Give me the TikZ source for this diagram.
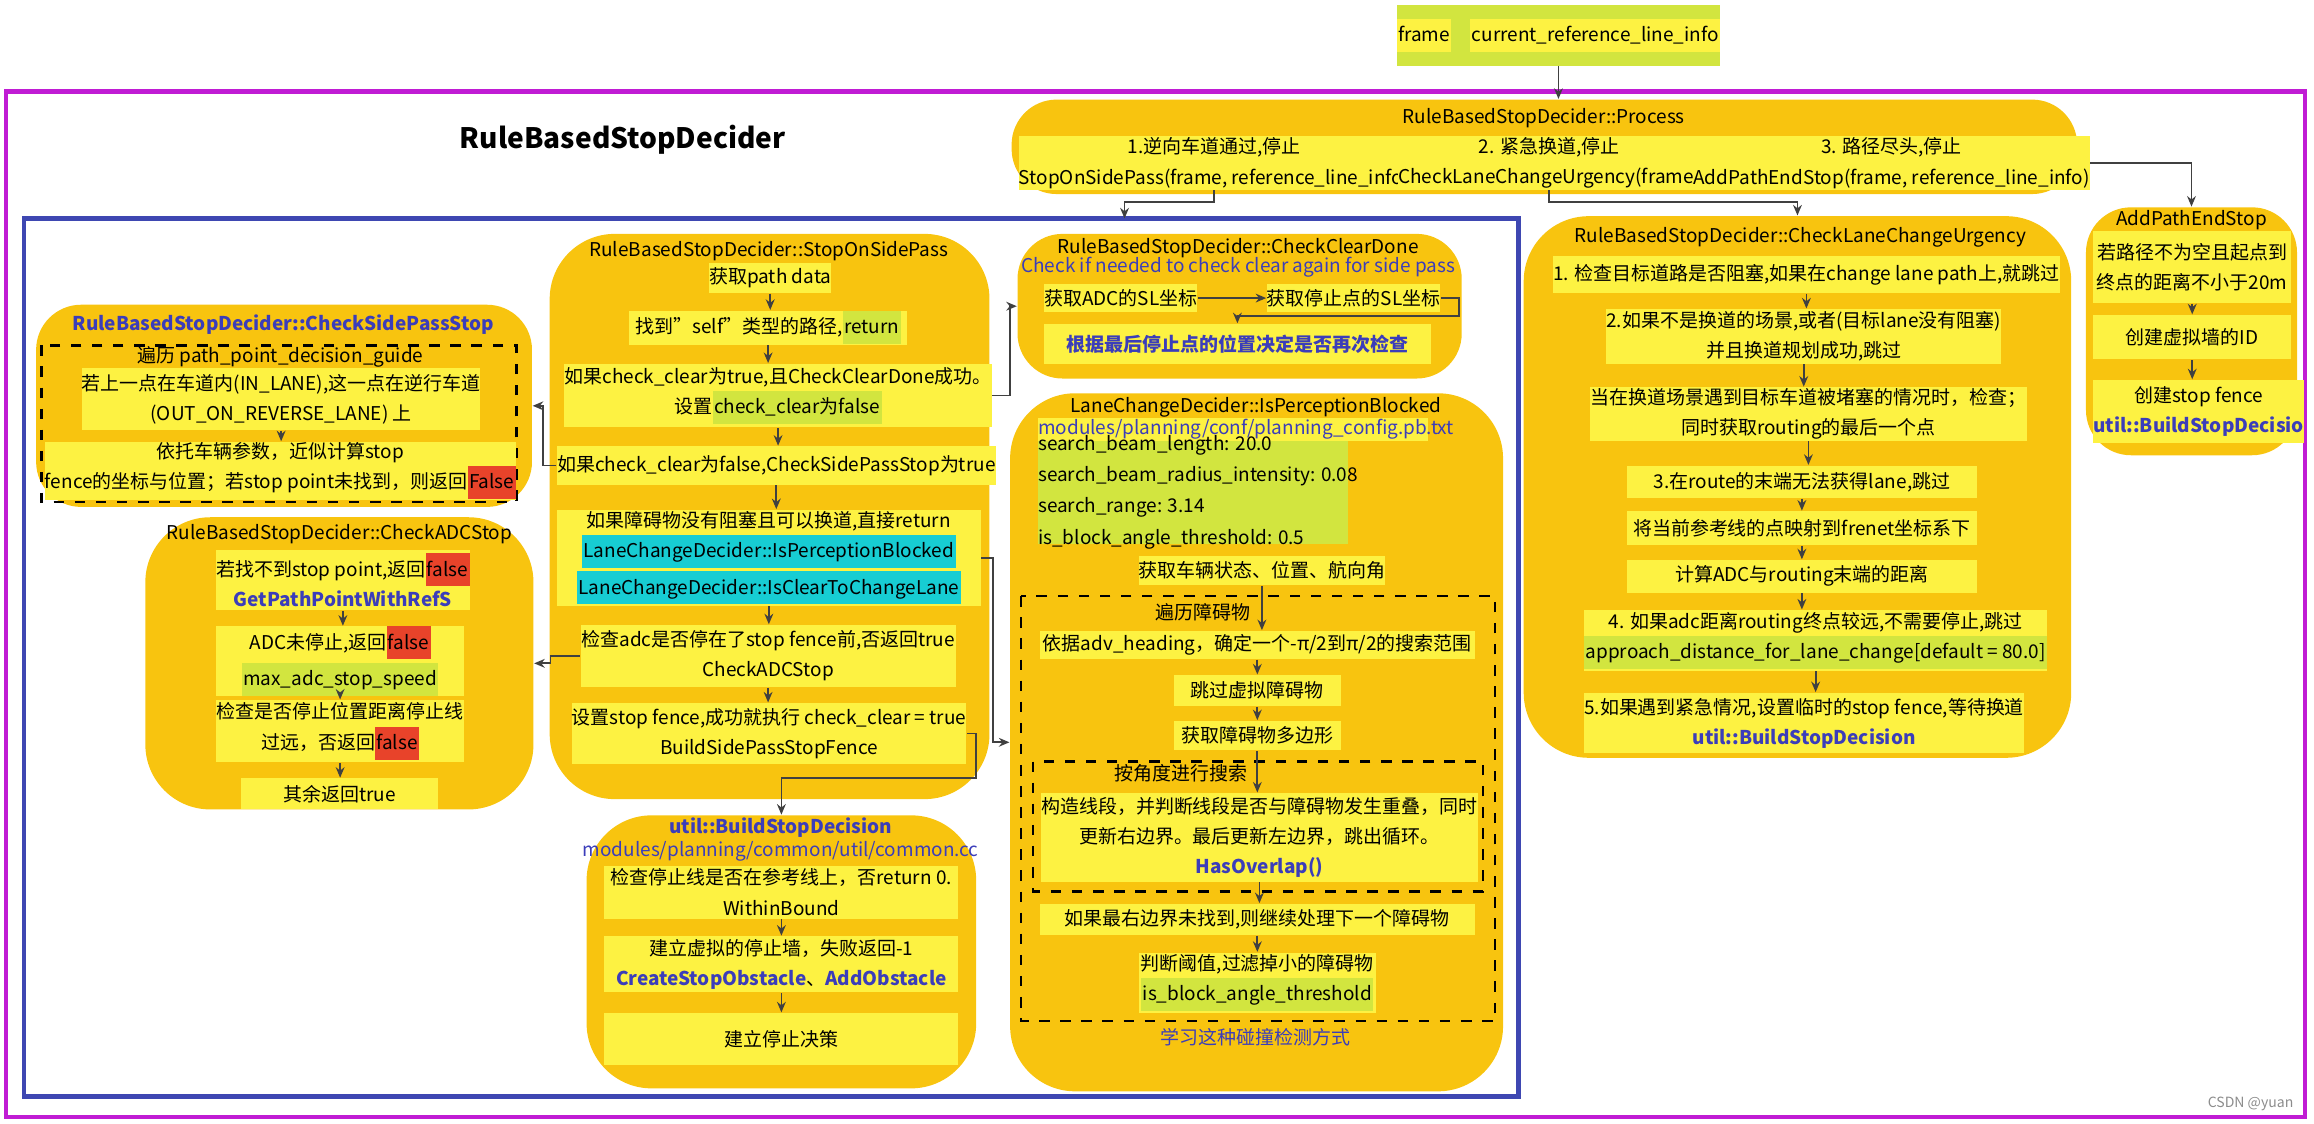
\documentclass[tikz,border=0pt]{standalone}
\usepackage{fontspec}
\setmainfont{Noto Sans CJK SC}
\usetikzlibrary{arrows.meta,positioning}
\definecolor{orng}{RGB}{248,196,15}
\definecolor{yel}{RGB}{253,242,66}
\definecolor{lime}{RGB}{210,229,63}
\definecolor{hred}{RGB}{232,67,42}
\definecolor{hcyan}{RGB}{23,205,211}
\definecolor{tblue}{RGB}{59,61,186}
\definecolor{mag}{RGB}{192,28,212}
\definecolor{fblue}{RGB}{62,71,178}
\newcommand\pxu{0.01476cm}
\newcommand\hl[2]{{\setlength\fboxsep{0.4pt}\colorbox{#1}{\strut #2}}}
% box from corner (x1,y1) to corner (x2,y2)
\newcommand\bx[7][ybox]{\node[#1,anchor=north west,minimum width={(#5-#3)*\pxu},
  minimum height={(#6-#4)*\pxu}] (#2) at (#3,#4) {#7};}
\begin{document}
\begin{tikzpicture}[x=\pxu,y=-\pxu,
  font=\fontsize{5.4}{8.6}\selectfont,
  ybox/.style={fill=yel,inner sep=0pt,align=center},
  limebox/.style={fill=lime,inner sep=0pt,align=center},
  cont/.style={fill=orng,inner sep=0pt,rounded corners=0.45cm},
  bigcont/.style={cont,rounded corners=0.65cm},
  arr/.style={-{Stealth[length=3pt,width=2.5pt]},draw=black!75,line width=0.5pt},
  frm/.style={dashed,line width=0.7pt},
  btitle/.style={text=tblue,font=\fontsize{5.4}{8.6}\selectfont\bfseries}]
\useasboundingbox (0,0) rectangle (1568,761);

% frames
\draw[mag,line width=1.2pt] (4,62) rectangle (1562,757);
\draw[fblue,line width=1.2pt] (16,148) rectangle (1029,743);
\node[font=\fontsize{8}{10}\selectfont\bfseries] (title) at (422,95) {RuleBasedStopDecider};

% input
\bx[limebox]{inp}{946}{3}{1160}{44}{\hl{yel}{frame}\quad\hl{yel}{current\_reference\_line\_info}}

% Process
\bx[cont]{proc}{685}{67}{1407}{131}{}
\node (proct) at (1046,80) {RuleBasedStopDecider::Process};
\bx{p1}{690}{92}{942}{128}{1.逆向车道通过,停止\\StopOnSidePass(frame, reference\_line\_info)}
\bx{p2}{947}{92}{1142}{128}{2. 紧急换道,停止\\CheckLaneChangeUrgency(frame)}
\bx{p3}{1147}{92}{1402}{128}{3. 路径尽头,停止\\AddPathEndStop(frame, reference\_line\_info)}
\coordinate (sidetop) at (762,148);

% StopOnSidePass
\bx[bigcont]{sosp}{372}{158}{670}{541}{}
\node (sospt) at (521,170) {RuleBasedStopDecider::StopOnSidePass};
\bx{s1}{480}{178}{560}{198}{获取path data}
\bx{s2}{426}{210}{614}{233}{找到"self"类型的路径,\hl{lime}{return}}
\bx{s3}{382}{246}{658}{289}{如果check\_clear为true,且CheckClearDone成功。\\设置\hl{lime}{check\_clear为false}}
\bx{s4}{377}{302}{664}{328}{如果check\_clear为false,CheckSidePassStop为true}
\bx{s5}{377}{345}{664}{410}{如果障碍物没有阻塞且可以换道,直接return\\\hl{hcyan}{LaneChangeDecider::IsPerceptionBlocked}\\\hl{hcyan}{LaneChangeDecider::IsClearToChangeLane}}
\bx{s6}{393}{423}{647}{465}{检查adc是否停在了stop fence前,否返回true\\CheckADCStop}
\bx{s7}{387}{476}{653}{517}{设置stop fence,成功就执行 check\_clear = true\\BuildSidePassStopFence}

% CheckSidePassStop
\bx[cont]{csps}{24}{206}{360}{343}{}
\node[btitle] (cspst) at (192,220) {RuleBasedStopDecider::CheckSidePassStop};
\draw[frm] (28,234) rectangle (350,340);
\node (cspsl) at (190,242) {遍历 path\_point\_decision\_guide};
\bx{ca}{55}{249}{319}{291}{若上一点在车道内(IN\_LANE),这一点在逆行车道\\(OUT\_ON\_REVERSE\_LANE) 上}
\bx{cb}{30}{299}{345}{338}{依托车辆参数，近似计算stop\\fence的坐标与位置；若stop point未找到，则返回\hl{hred}{False}}

% CheckADCStop
\bx[bigcont]{adc}{98}{350}{361}{548}{}
\node (adct) at (230,362) {RuleBasedStopDecider::CheckADCStop};
\bx{a1}{146}{372}{314}{413}{若找不到stop point,返回\hl{hred}{false}\\{\color{tblue}\bfseries GetPathPointWithRefS}}
\bx{a2}{146}{424}{314}{465}{ADC未停止,返回\hl{hred}{false}\\\hl{lime}{max\_adc\_stop\_speed}}
\bx{a3}{146}{474}{314}{516}{检查是否停止位置距离停止线\\过远，否返回\hl{hred}{false}}
\bx{a4}{163}{527}{296}{548}{其余返回true}

% CheckClearDone
\bx[cont]{ccd}{689}{158}{990}{256}{}
\node (ccdt) at (839,168) {RuleBasedStopDecider::CheckClearDone};
\node[text=tblue] (ccds) at (839,181) {Check if needed to check clear again for side pass};
\bx{c1}{707}{192}{806}{211}{获取ADC的SL坐标}
\bx{c2}{858}{192}{970}{211}{获取停止点的SL坐标}
\bx{c3}{707}{219}{969}{246}{\color{tblue}\bfseries 根据最后停止点的位置决定是否再次检查}

% IsPerceptionBlocked
\bx[bigcont]{ipb}{684}{266}{1018}{739}{}
\node (ipbt) at (851,276) {LaneChangeDecider::IsPerceptionBlocked};
\bx{i0}{703}{283}{967}{298}{}
\node[text=tblue,anchor=west,inner sep=0pt] (i0t) at (i0.west) {modules/planning/conf/planning\_config.pb.txt};
\bx[limebox]{i1}{703}{298}{913}{368}{}
\node[anchor=west,align=left,inner sep=0pt,font=\fontsize{5.4}{8.9}\selectfont] (i1t) at (i1.west)
  {search\_beam\_length: 20.0\\search\_beam\_radius\_intensity: 0.08\\search\_range: 3.14\\is\_block\_angle\_threshold: 0.5};
\bx{i2}{771}{376}{932}{396}{获取车辆状态、位置、航向角}
\draw[frm] (692,404) rectangle (1013,692);
\node (i3l) at (815,415) {遍历障碍物};
\bx{i3}{704}{427}{999}{446}{依据adv\_heading，确定一个-π/2到π/2的搜索范围}
\bx{i4}{795}{457}{908}{478}{跳过虚拟障碍物}
\bx{i5}{795}{488}{908}{508}{获取障碍物多边形}
\draw[frm] (700,516) rectangle (1005,604);
\node (i6l) at (800,524) {按角度进行搜索};
\bx{i6}{705}{537}{999}{597}{构造线段，并判断线段是否与障碍物发生重叠，同时\\更新右边界。最后更新左边界，跳出循环。\\{\color{tblue}\bfseries HasOverlap()}}
\bx{i7}{704}{612}{999}{633}{如果最右边界未找到,则继续处理下一个障碍物}
\bx{i8}{771}{645}{932}{686}{判断阈值,过滤掉小的障碍物\\\hl{lime}{is\_block\_angle\_threshold}}
\node[text=tblue] (ipbn) at (851,703) {学习这种碰撞检测方式};

% util::BuildStopDecision
\bx[bigcont]{bsd}{397}{552}{661}{737}{}
\node[btitle] (bsdt) at (529,561) {util::BuildStopDecision};
\node[text=tblue] (bsdp) at (529,577) {modules/planning/common/util/common.cc};
\bx{b1}{409}{586}{649}{622}{检查停止线是否在参考线上，否return 0.\\WithinBound}
\bx{b2}{409}{634}{649}{672}{建立虚拟的停止墙，失败返回-1\\{\color{tblue}\bfseries CreateStopObstacle}、{\color{tblue}\bfseries AddObstacle}}
\bx{b3}{409}{686}{649}{721}{建立停止决策}

% CheckLaneChangeUrgency
\bx[bigcont]{lcu}{1032}{146}{1403}{513}{}
\node (lcut) at (1220,161) {RuleBasedStopDecider::CheckLaneChangeUrgency};
\bx{l1}{1052}{173}{1387}{198}{1. 检查目标道路是否阻塞,如果在change lane path上,就跳过}
\bx{l2}{1088}{209}{1352}{246}{2.如果不是换道的场景,或者(目标lane没有阻塞)\\并且换道规划成功,跳过}
\bx{l3}{1077}{262}{1364}{298}{当在换道场景遇到目标车道被堵塞的情况时，检查；\\同时获取routing的最后一个点}
\bx{l4}{1102}{315}{1339}{337}{3.在route的末端无法获得lane,跳过}
\bx{l5}{1102}{346}{1339}{369}{将当前参考线的点映射到frenet坐标系下}
\bx{l6}{1102}{379}{1339}{401}{计算ADC与routing末端的距离}
\bx{l7}{1073}{413}{1367}{454}{4. 如果adc距离routing终点较远,不需要停止,跳过\\\hl{lime}{approach\_distance\_for\_lane\_change[default = 80.0]}}
\bx{l8}{1073}{469}{1367}{510}{5.如果遇到紧急情况,设置临时的stop fence,等待换道\\{\color{tblue}\bfseries util::BuildStopDecision}}

% AddPathEndStop
\bx[cont]{ape}{1413}{140}{1556}{308}{}
\node (apet) at (1485,149) {AddPathEndStop};
\bx{e1}{1418}{156}{1552}{205}{若路径不为空且起点到\\终点的距离不小于20m}
\bx{e2}{1418}{213}{1552}{243}{创建虚拟墙的ID}
\bx{e3}{1418}{257}{1552}{300}{创建stop fence\\{\color{tblue}\bfseries util::BuildStopDecisio}}

\node[text=black!45,font=\fontsize{4}{5}\selectfont] (mark) at (1525,748) {CSDN @yuan};

% connectors
\draw[arr] (inp.south) -- (inp.south |- proc.north);
\draw[arr] (p1.south) -- ++(0,8) -| (sidetop);
\draw[arr] (p2.south) -- ++(0,8) -| (lcu.north);
\draw[arr] (p3.east) -| (ape.north);
\foreach \a/\b in {s1/s2,s2/s3,s3/s4,s4/s5,s5/s6,s6/s7,a1/a2,a2/a3,a3/a4,
  b1/b2,b2/b3,l1/l2,l2/l3,l3/l4,l4/l5,l5/l6,l6/l7,l7/l8,e1/e2,e2/e3,
  i2/i3,i3/i4,i4/i5,i5/i6,i6/i7,i7/i8}
  \draw[arr] (\a.south) -- (\a.south |- \b.north);
\draw[arr] (ca.south) -- (ca.south |- cb.north);
\draw[arr] (s3.east) -- ++(12,0) |- (ccd.west);
\draw[arr] (s4.west) -- ++(-9,0) |- (csps.east);
\draw[arr] (s6.west) -- ++(-20,0) |- (adc.east);
\draw[arr] (s5.east) -- ++(8,0) |- (ipb.west);
\draw[arr] (s7.east) -- ++(6,0) -- ++(0,30) -| (bsd.north);
\draw[arr] (c1.east) -- (c2.west);
\draw[arr] (c2.east) -- ++(12,0) -- ++(0,12) -| (c3.north);
\end{tikzpicture}
\end{document}
